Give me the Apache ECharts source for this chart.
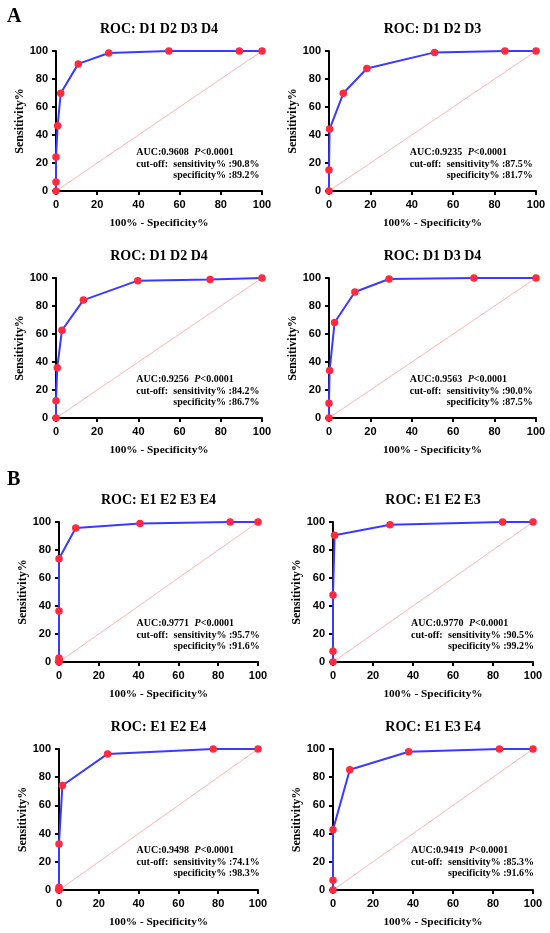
<!DOCTYPE html>
<html>
<head>
<meta charset="utf-8">
<script src="https://cdn.jsdelivr.net/npm/echarts@6/dist/echarts.min.js"></script>
<style>
  html, body { margin: 0; padding: 0; background: #fff; }
  #main { width: 550px; height: 933px; }
</style>
</head>
<body>
<div id="main"></div>
<script>
// data (x = 100% - specificity%, y = sensitivity%)
var panelTitles = ['ROC: D1 D2 D3 D4', 'ROC: D1 D2 D3', 'ROC: D1 D2 D4', 'ROC: D1 D3 D4',
                   'ROC: E1 E2 E3 E4', 'ROC: E1 E2 E3', 'ROC: E1 E2 E4', 'ROC: E1 E3 E4'];

var fprD1234 = [0, 0, 0, 0.8, 2.3, 10.8, 25.6, 54.8, 89, 100];
var tprD1234 = [0, 6.4, 24.2, 46.6, 69.8, 90.8, 98.6, 100, 100, 100];

var fprD123 = [0, 0, 0.3, 6.9, 18.3, 51, 85, 100];
var tprD123 = [0, 15, 44.2, 69.8, 87.5, 99, 100, 100];

var fprD124 = [0, 0, 0.6, 2.9, 13.3, 39.7, 74.8, 100];
var tprD124 = [0, 12.4, 35.9, 62.7, 84.2, 98.1, 99, 100];

var fprD134 = [0, 0, 0.3, 2.7, 12.5, 29, 70, 100];
var tprD134 = [0, 10.5, 34, 68.2, 90.0, 99.3, 100, 100];

var fprE1234 = [0, 0, 0, 0, 0, 8.4, 40.7, 86, 100];
var tprE1234 = [0, 1.2, 2.9, 36.4, 73.8, 95.7, 99, 100, 100];

var fprE123 = [0, 0, 0, 0.8, 28.5, 84.8, 100];
var tprE123 = [0, 7.6, 47.9, 90.5, 98.1, 100, 100];

var fprE124 = [0, 0, 0, 0, 1.7, 24.4, 77.5, 100];
var tprE124 = [0, 0.7, 1.9, 32.6, 74.1, 96.5, 100, 100];

var fprE134 = [0, 0, 0, 8.4, 37.8, 83.2, 100];
var tprE134 = [0, 6.9, 42.8, 85.3, 98.1, 100, 100];

var aucValues = ['0.9608', '0.9235', '0.9256', '0.9563', '0.9771', '0.9770', '0.9498', '0.9419'];
var cutSens = ['90.8', '87.5', '84.2', '90.0', '95.7', '90.5', '74.1', '85.3'];
var cutSpec = ['89.2', '81.7', '86.7', '87.5', '91.6', '99.2', '98.3', '91.6'];
var diagX = [0, 100];
var diagY = [0, 100];

var fprList = [fprD1234, fprD123, fprD124, fprD134, fprE1234, fprE123, fprE124, fprE134];
var tprList = [tprD1234, tprD123, tprD124, tprD134, tprE1234, tprE123, tprE124, tprE134];

// grid boxes in pixels
var boxes = [
  { l: 56, t: 51, w: 206, h: 140 },
  { l: 329, t: 51, w: 207, h: 140 },
  { l: 56, t: 278, w: 206, h: 140 },
  { l: 329, t: 278, w: 207, h: 140 },
  { l: 59, t: 522, w: 199, h: 140 },
  { l: 333, t: 522, w: 200, h: 140 },
  { l: 59, t: 749, w: 199, h: 141 },
  { l: 333, t: 749, w: 200, h: 141 }
];

var serif = '"Liberation Serif", "Times New Roman", serif';
var sans = '"Liberation Sans", Arial, sans-serif';

var grids = [], xAxes = [], yAxes = [], series = [], titles = [], graphics = [];

function pairs(xs, ys) {
  return xs.map(function (x, i) { return [x, ys[i]]; });
}

boxes.forEach(function (b, i) {
  grids.push({ left: b.l, top: b.t, width: b.w, height: b.h, containLabel: false });
  var axisCommon = {
    gridIndex: i, type: 'value', min: 0, max: 100, interval: 20,
    splitLine: { show: false },
    axisLine: { show: true, lineStyle: { color: '#000', width: 2 } },
    axisTick: { show: true, length: 4, lineStyle: { color: '#000', width: 2 } },
    axisLabel: { color: '#000', fontWeight: 'bold', fontFamily: sans, fontSize: 11, margin: 8 },
    nameLocation: 'middle'
  };
  xAxes.push(Object.assign({}, axisCommon, {
    name: '100% - Specificity%', nameGap: 27,
    nameTextStyle: { color: '#000', fontWeight: 'bold', fontFamily: serif, fontSize: 11.3 }
  }));
  yAxes.push(Object.assign({}, axisCommon, {
    name: 'Sensitivity%', nameGap: 26,
    nameTextStyle: { color: '#000', fontWeight: 'bold', fontFamily: serif, fontSize: 12 }
  }));

  series.push({
    type: 'line', xAxisIndex: i, yAxisIndex: i,
    data: pairs(diagX, diagY), symbol: 'none', silent: true,
    lineStyle: { color: '#ffb4b4', width: 1 }, z: 1
  });
  series.push({
    type: 'line', xAxisIndex: i, yAxisIndex: i,
    data: pairs(fprList[i], tprList[i]),
    symbol: 'circle', symbolSize: 7.5, clip: false,
    lineStyle: { color: '#3a3aff', width: 2 },
    itemStyle: { color: '#ff2a3e' }, z: 3
  });

  titles.push({
    text: panelTitles[i], left: b.l + b.w / 2, top: b.t - 29, textAlign: 'center', padding: 0,
    textStyle: { fontFamily: serif, fontWeight: 'bold', fontSize: 14, color: '#000' }
  });

  var ax = b.l + b.w * 0.39, ay = b.t + 101;
  var f = 'bold 10px ' + serif;
  graphics.push({
    type: 'text', x: ax, y: ay,
    style: {
      text: '{b|AUC:' + aucValues[i] + ' }{i|P}{b|<0.0001}',
      verticalAlign: 'middle',
      rich: {
        b: { fontFamily: serif, fontWeight: 'bold', fontSize: 10, fill: '#000' },
        i: { fontFamily: serif, fontWeight: 'bold', fontStyle: 'italic', fontSize: 10, fill: '#000', padding: [0, 0, 0, 3] }
      }
    }
  });
  graphics.push({
    type: 'text', x: ax, y: ay + 12,
    style: { text: 'cut-off:', verticalAlign: 'middle', font: f, fill: '#000' }
  });
  graphics.push({
    type: 'text', x: ax + 37, y: ay + 12,
    style: { text: 'sensitivity% :' + cutSens[i] + '%', verticalAlign: 'middle', font: f, fill: '#000' }
  });
  graphics.push({
    type: 'text', x: ax + 37, y: ay + 23,
    style: { text: 'specificity% :' + cutSpec[i] + '%', verticalAlign: 'middle', font: f, fill: '#000' }
  });
});

// panel letters
graphics.push({ type: 'text', x: 7, y: 16.5, style: { text: 'A', verticalAlign: 'middle', font: 'bold 20px ' + serif, fill: '#000' } });
graphics.push({ type: 'text', x: 7, y: 480, style: { text: 'B', verticalAlign: 'middle', font: 'bold 20px ' + serif, fill: '#000' } });

var myChart = echarts.init(document.getElementById('main'));
var option = {
  backgroundColor: '#fff',
  animation: false,
  title: titles,
  grid: grids,
  xAxis: xAxes,
  yAxis: yAxes,
  series: series,
  graphic: graphics
};
myChart.setOption(option);
</script>
</body>
</html>
